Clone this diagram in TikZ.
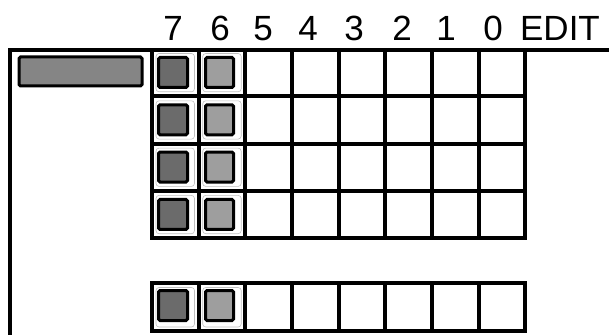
\documentclass[tikz,border=0pt]{standalone}
\usepackage{fontspec}
\setmainfont{Liberation Sans}
\begin{document}
\begin{tikzpicture}[x=1pt,y=-1pt,
  frameline/.style={line width=4pt, line cap=butt},
  gridline/.style={line width=3.8pt},
  innerframe/.style={line width=0.6pt, draw=black!25, rounded corners=3pt},
  darksq/.style={draw=black, line width=3pt, fill=black!58, rounded corners=1.5pt},
  lightsq/.style={draw=black, line width=3pt, fill=black!38, rounded corners=1.5pt},
  lbl/.style={anchor=base, font=\fontsize{35}{35}\selectfont, inner sep=0pt}]
\useasboundingbox (0,0) rectangle (609,334);
% outer frame
\draw[frameline] (10,336) -- (10,50) -- (609,50);
% top bar
\draw[darksq, fill=black!48] (19,57) rectangle (142,86);
% main grid
\def\cw{46.67}
\def\rh{47.3}
\foreach \j in {0,...,3}{
  \pgfmathsetmacro{\ry}{49+\rh*\j}
  \draw[innerframe] (156,\ry+4.5) rectangle (194.5,\ry+\rh-4.5);
  \draw[innerframe] (202.7,\ry+4.5) rectangle (241.2,\ry+\rh-4.5);
  \draw[darksq] (158.5,\ry+8.5) rectangle (187.5,\ry+38.5);
  \draw[lightsq] (205.5,\ry+8.5) rectangle (233.5,\ry+38.5);
}
\foreach \i in {0,...,8}{
  \draw[gridline] (152+\cw*\i,49) -- (152+\cw*\i,238.2);
}
\foreach \j in {1,...,4}{
  \draw[gridline] (150,49+\rh*\j) -- (527,49+\rh*\j);
}
% bottom strip
\draw[innerframe] (156,287.5) rectangle (194.5,327);
\draw[innerframe] (202.7,287.5) rectangle (241.2,327);
\draw[darksq] (158.5,290.5) rectangle (187.5,320.5);
\draw[lightsq] (205.5,290.5) rectangle (233.5,320.5);
\draw[gridline] (152,283) rectangle (525.3,331);
\foreach \i in {1,...,7}{
  \draw[gridline] (152+\cw*\i,283) -- (152+\cw*\i,331);
}
% labels
\node[lbl] (l7) at (173,41) {7};
\node[lbl] (l6) at (220,41) {6};
\node[lbl] (l5) at (263,41) {5};
\node[lbl] (l4) at (308,41) {4};
\node[lbl] (l3) at (354,41) {3};
\node[lbl] (l2) at (402,41) {2};
\node[lbl] (l1) at (446,41) {1};
\node[lbl] (l0) at (493,41) {0};
\node[lbl] (edit) at (560,41) {EDIT};
\end{tikzpicture}
\end{document}
